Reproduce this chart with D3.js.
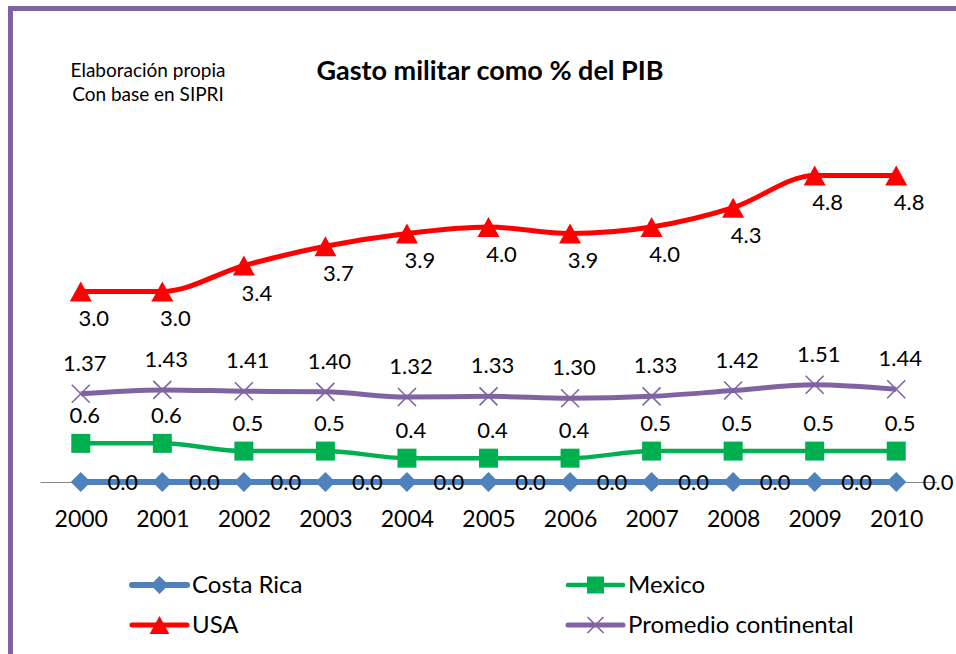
<!DOCTYPE html>
<html>
<head>
<meta charset="utf-8">
<script src="https://cdn.jsdelivr.net/npm/d3@7"></script>
<style>
  body { margin: 0; background: #fff; }
  svg { display: block; font-family: Lato, "Open Sans", sans-serif; }
</style>
</head>
<body>
<svg id="chart"></svg>
<script>
const years = ['2000', '2001', '2002', '2003', '2004', '2005', '2006', '2007', '2008', '2009', '2010']
const costaRica = [0, 0, 0, 0, 0, 0, 0, 0, 0, 0, 0]
const mexico = [0.6, 0.6, 0.48, 0.48, 0.37, 0.37, 0.37, 0.48, 0.48, 0.48, 0.48]
const usa = [2.96, 2.96, 3.36, 3.66, 3.86, 3.96, 3.86, 3.96, 4.26, 4.76, 4.76]
const promedio = [1.37, 1.43, 1.41, 1.40, 1.32, 1.33, 1.30, 1.33, 1.42, 1.51, 1.44]

const title = 'Gasto militar como % del PIB'
const note = ['Elaboración propia', 'Con base en SIPRI']

const width = 956
const height = 654
const purple = '#8064A2'

const series = [
  { name: 'Costa Rica', values: costaRica, color: '#4F81BD', marker: 'diamond', lw: 6, fmt: d3.format('.1f'), dx: 42, dy: 8 },
  { name: 'Mexico', values: mexico, color: '#00B050', marker: 'square', lw: 4.5, fmt: d3.format('.1f'), dx: 4, dy: -20 },
  { name: 'USA', values: usa, color: '#FF0000', marker: 'triangle', lw: 5, fmt: d3.format('.1f'), dx: 13, dy: 35 },
  { name: 'Promedio continental', values: promedio, color: purple, marker: 'cross', lw: 5, fmt: d3.format('.2f'), dx: 4, dy: -23 }
]

const svg = d3.select('#chart')
              .attr('width', width)
              .attr('height', height)

// frame (left + top edges only are visible)
svg.append('path')
   .attr('d', `M10.5,${height} V8.5 H${width}`)
   .attr('fill', 'none')
   .attr('stroke', purple)
   .attr('stroke-width', 5)

const xScale = d3.scalePoint()
                 .domain(years)
                 .range([40, 937])
                 .padding(0.5)

const yScale = d3.scaleLinear()
                 .domain([0, 5])
                 .range([482, 160])

// category axis
const xAxis = d3.axisBottom(xScale).tickSize(0).tickPadding(0)
const gx = svg.append('g')
   .attr('transform', `translate(0, ${yScale(0)})`)
   .call(xAxis)
gx.select('.domain').attr('stroke', '#868686').attr('stroke-width', 1.2)
gx.selectAll('text')
  .attr('y', 45)
  .attr('dy', null)
  .attr('fill', '#000')
  .style('font-size', '23px')
  .style('font-family', 'Lato, sans-serif')

const symbolPath = (type, s) => {
  if (type === 'diamond') return `M0,${-s} L${s},0 L0,${s} L${-s},0Z`
  if (type === 'square') return `M${-s},${-s} H${s} V${s} H${-s}Z`
  if (type === 'triangle') return `M0,${-s} L${s * 1.1},${s} L${-s * 1.1},${s}Z`
  return `M${-s},${-s} L${s},${s} M${s},${-s} L${-s},${s}`
}
const markerSize = { diamond: 10, square: 9.5, triangle: 10, cross: 9 }

const line = d3.line()
               .x((d, i) => xScale(years[i]))
               .y(d => yScale(d))
               .curve(d3.curveMonotoneX)

// later series sit on top
const drawOrder = [series[3], series[2], series[1], series[0]]
drawOrder.forEach(s => {
  const g = svg.append('g')
  g.append('path')
   .attr('d', line(s.values))
   .attr('fill', 'none')
   .attr('stroke', s.color)
   .attr('stroke-width', s.lw)
   .attr('stroke-linejoin', 'round')

  g.selectAll('path.mk')
   .data(s.values)
   .join('path')
   .attr('class', 'mk')
   .attr('transform', (d, i) => `translate(${xScale(years[i])}, ${yScale(d)})`)
   .attr('d', symbolPath(s.marker, markerSize[s.marker]))
   .attr('fill', s.marker === 'cross' ? 'none' : s.color)
   .attr('stroke', s.color)
   .attr('stroke-width', s.marker === 'cross' ? 1.6 : 0)
})

series.forEach(s => {
  svg.append('g')
     .selectAll('text')
     .data(s.values)
     .join('text')
     .attr('x', (d, i) => xScale(years[i]) + s.dx)
     .attr('y', d => yScale(d) + s.dy)
     .attr('text-anchor', 'middle')
     .style('font-size', '22px')
     .text(d => s.fmt(d))
})

// title and note
svg.append('text')
   .attr('x', 490)
   .attr('y', 80)
   .attr('text-anchor', 'middle')
   .style('font-size', '27px')
   .style('font-weight', 'bold')
   .text(title)

svg.append('g')
   .selectAll('text')
   .data(note)
   .join('text')
   .attr('x', 148)
   .attr('y', (d, i) => 77 + i * 24)
   .attr('text-anchor', 'middle')
   .style('font-size', '19px')
   .text(d => d)

// legend
const legendPos = [[132, 585], [568, 585], [132, 625], [568, 625]]
series.forEach((s, i) => {
  const [lx, ly] = legendPos[i]
  const g = svg.append('g').attr('transform', `translate(${lx}, ${ly})`)
  g.append('line')
   .attr('x1', 0).attr('x2', 55)
   .attr('stroke', s.color)
   .attr('stroke-width', s.lw)
   .attr('stroke-linecap', 'round')
  g.append('path')
   .attr('transform', 'translate(27.5, 0)')
   .attr('d', symbolPath(s.marker, markerSize[s.marker] - 1))
   .attr('fill', s.marker === 'cross' ? 'none' : s.color)
   .attr('stroke', s.color)
   .attr('stroke-width', s.marker === 'cross' ? 1.6 : 0)
  g.append('text')
   .attr('x', 60)
   .attr('y', 8)
   .style('font-size', '24px')
   .text(s.name)
})
</script>
</body>
</html>
